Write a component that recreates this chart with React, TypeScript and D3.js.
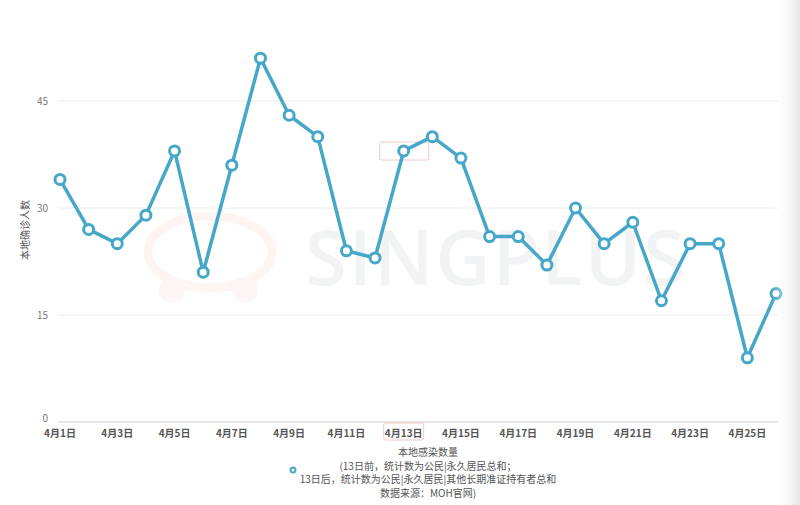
import React from "react";
import * as d3 from "d3";

const days: string[] = Array.from({ length: 26 }, (_, i) => `4月${i + 1}日`);
const cases: number[] = [34, 27, 25, 29, 38, 21, 36, 51, 43, 40, 24, 23, 38, 40, 37, 26, 26, 22, 30, 25, 28, 17, 25, 25, 9, 18];
const yTicks: number[] = [0, 15, 30, 45];
const yLabel = "本地确诊人数";
const legendLines: string[] = [
  "本地感染数量",
  "(13日前，统计数为公民|永久居民总和；",
  "13日后，统计数为公民|永久居民|其他长期准证持有者总和",
  "数据来源：MOH官网)",
];

const W = 800;
const H = 505;
const font = "'Noto Sans CJK SC', 'Noto Sans', sans-serif";
const lineColor = "#47a7c9";

export default function App() {
  const x = d3.scalePoint<string>().domain(days).range([60, 776]);
  const y = d3.scaleLinear().domain([0, 45]).range([422, 101]);
  const line = d3
    .line<number>()
    .x((_, i) => x(days[i]) as number)
    .y((d) => y(d));
  const tickDays = days.filter((_, i) => i % 2 === 0);
  const hl = days[12];
  return (
    <svg
      width={W}
      height={H}
      style={{ position: "absolute", left: 0, top: 0, background: "#fff" }}
      fontFamily={font}
    >
      <defs>
        <linearGradient id="edge" x1="0" x2="1" y1="0" y2="0">
          <stop offset="0" stopColor="#fff" stopOpacity={0} />
          <stop offset="1" stopColor="#e6e6e8" stopOpacity={1} />
        </linearGradient>
      </defs>
      <rect x={0} y={0} width={W} height={H} fill="#fff" />
      {/* watermark */}
      <g opacity={0.35}>
        <ellipse cx={210} cy={252} rx={62} ry={36} fill="none" stroke="#fbe3dc" strokeWidth={9} />
        <circle cx={172} cy={290} r={13} fill="#fde6e2" />
        <circle cx={245} cy={290} r={13} fill="#fde6e2" />
      </g>
      <text x={305} y={285} fontSize={76} fill="#f2f3f5" fontFamily="'Open Sans', sans-serif" fontWeight={600} letterSpacing={2}>
        SINGPLUS
      </text>
      {/* grid */}
      {yTicks.map((t) => (
        <g key={t}>
          <line x1={58} x2={778} y1={y(t)} y2={y(t)} stroke={t === 0 ? "#cfcfcf" : "#ececec"} strokeWidth={1} />
          <text x={48} y={t === 0 ? y(t) : y(t) + 4} fontSize={10} fill="#777" textAnchor="end">
            {t}
          </text>
        </g>
      ))}
      <text
        transform={`translate(29, ${230}) rotate(-90)`}
        fontSize={10}
        fill="#555"
        textAnchor="middle"
      >
        {yLabel}
      </text>
      {/* x labels */}
      {tickDays.map((d) => (
        <text key={d} x={x(d)} y={437} fontSize={10} fontWeight={700} fill="#555" textAnchor="middle">
          {d}
        </text>
      ))}
      <rect x={(x(hl) as number) - 20} y={423} width={40} height={17} fill="none" stroke="#f0c8c4" strokeWidth={1} rx={2} />
      <rect x={(x(hl) as number) - 24} y={142} width={49} height={18} fill="none" stroke="#f0c8c4" strokeWidth={1} rx={2} />
      {/* series */}
      <path d={line(cases) || ""} fill="none" stroke={lineColor} strokeWidth={3.5} strokeLinejoin="round" />
      {cases.map((v, i) => (
        <circle key={i} cx={x(days[i])} cy={y(v)} r={5} fill="#fff" stroke={lineColor} strokeWidth={3} />
      ))}
      {/* legend */}
      <circle cx={293} cy={470} r={2.5} fill="#fff" stroke={lineColor} strokeWidth={2} />
      {legendLines.map((t, i) => (
        <text key={i} x={428} y={456 + i * 13.5} fontSize={10} fill="#555" textAnchor="middle">
          {t}
        </text>
      ))}
      <rect x={772} y={0} width={28} height={H} fill="url(#edge)" />
    </svg>
  );
}
